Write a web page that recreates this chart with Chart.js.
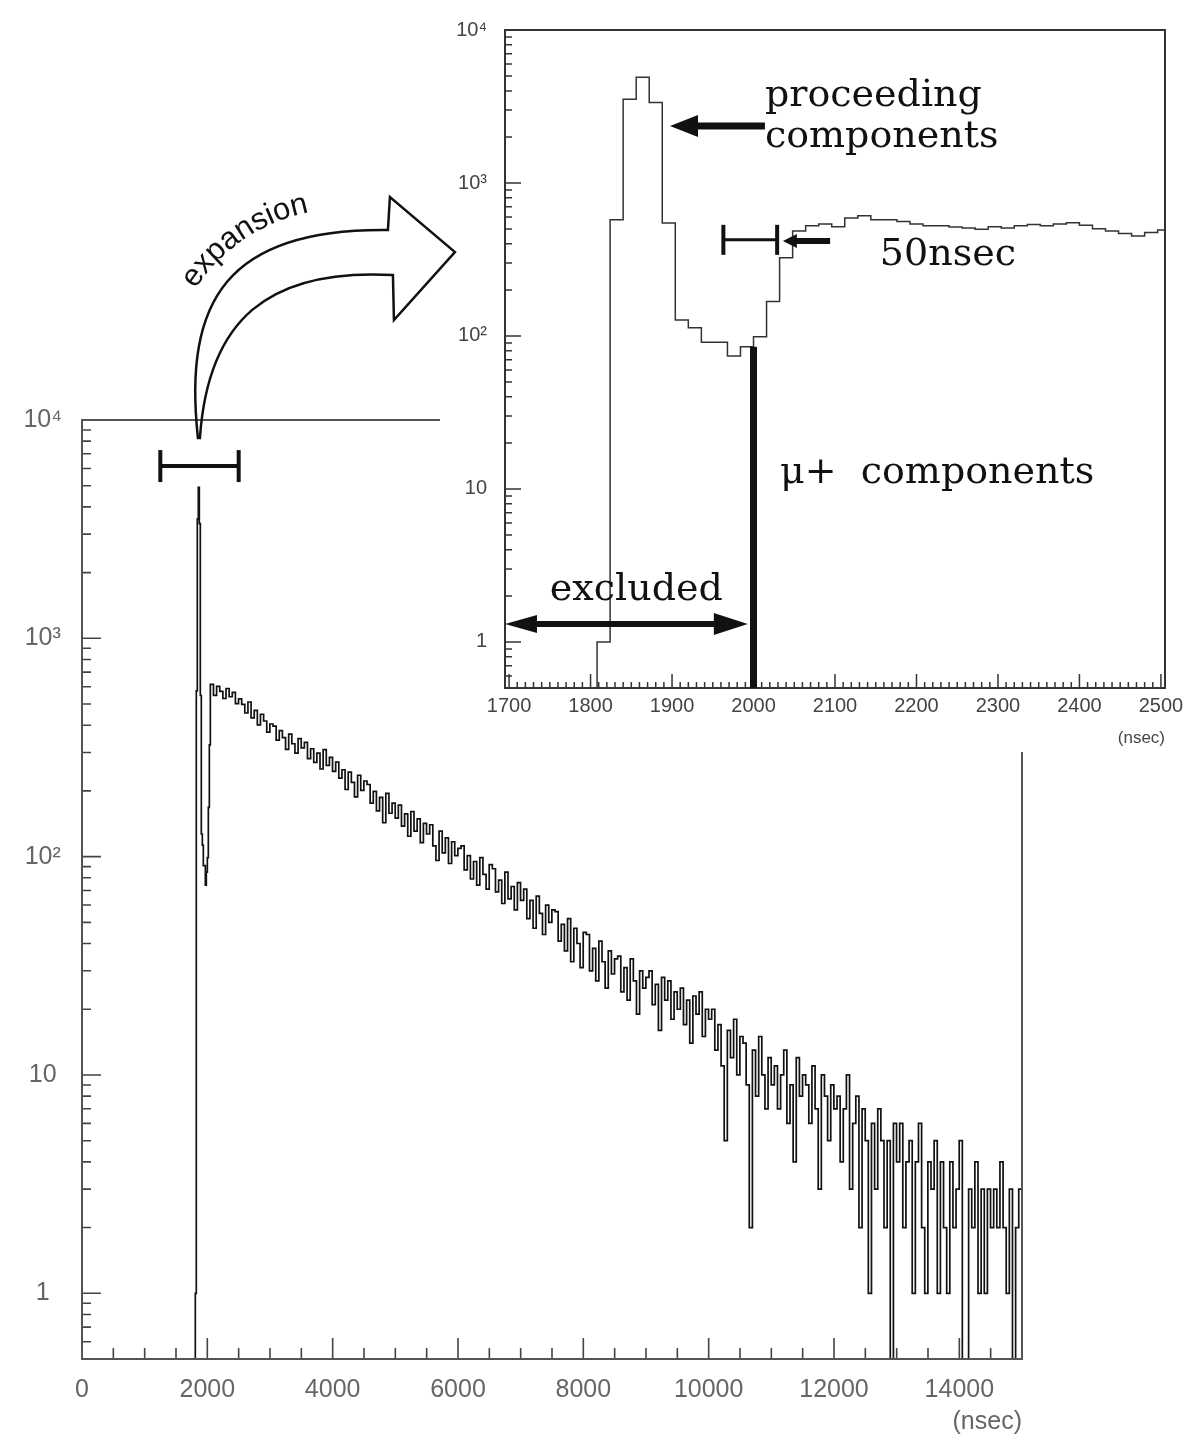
<!DOCTYPE html>
<html>
<head>
<meta charset="utf-8">
<script src="https://cdn.jsdelivr.net/npm/chart.js@4.4.1/dist/chart.umd.min.js"></script>
<style>
  html, body { margin: 0; padding: 0; background: #fff; }
  #wrap { position: relative; width: 1196px; height: 1441px; }
  #main { position: absolute; left: 0; top: 0; }
  #inset { position: absolute; left: 440px; top: 0; }
</style>
</head>
<body>
<div id="wrap">
  <canvas id="main" width="1196" height="1441"></canvas>
  <canvas id="inset" width="756" height="752"></canvas>
</div>
<script>
// ---- data (counts per bin, bins given by their left edge in nsec) ----
// prompt peak region, 16 nsec bins, used by both plots
const peakEdges  = [1792, 1808, 1824, 1840, 1856, 1872, 1888, 1904, 1920, 1936, 1952, 1968, 1984, 2000, 2016, 2032];
const peakCounts = [0, 1, 574, 3524, 4910, 3354, 547, 127, 113, 91, 91, 74, 85, 99, 168, 325];

// inset: continuation after the dip, 16 nsec bins from 2048
const insetTailStart = 2048;
const insetBinWidth = 16;
const insetTailCounts = [486, 526, 540, 518, 590, 610, 575, 575, 560, 540, 526, 526, 515, 507, 498,
  518, 507, 526, 535, 526, 540, 550, 530, 503, 486, 467, 450, 475, 492];

// main plot: decay tail, 50 nsec bins from 2048
const mainTailStart = 2048;
const mainBinWidth = 50;
const mainTailCounts = [
  615, 548, 602, 571, 530, 589, 540, 566, 502, 528,
  498, 455, 511, 432, 468, 401, 449, 418, 372, 405,
  396, 342, 378, 351, 310, 364, 329, 298, 347, 315,
  334, 281, 312, 270, 298, 252, 309, 262, 285, 246,
  271, 229, 250, 203, 244, 219, 188, 236, 201, 222,
  214, 176, 199, 162, 187, 143, 195, 158, 176, 150,
  172, 138, 157, 124, 161, 131, 149, 116, 142, 127,
  140, 112, 96, 131, 104, 122, 93, 117, 101, 109,
  112, 87, 101, 79, 95, 74, 99, 83, 71, 92,
  88, 69, 78, 61, 85, 64, 73, 57, 76, 63,
  71, 52, 63, 47, 66, 55, 44, 60, 50, 57,
  56, 41, 49, 37, 52, 33, 47, 40, 31, 45,
  44, 30, 38, 27, 41, 33, 25, 37, 29, 34,
  35, 24, 31, 22, 34, 27, 19, 30, 25, 28,
  30, 21, 26, 16, 28, 22, 27, 18, 24, 20,
  25, 17, 22, 14, 23, 19, 24, 15, 20, 18,
  20, 13, 17, 11, 5, 16, 12, 18, 10, 15,
  14, 9, 2, 13, 8, 15, 10, 7, 12, 9,
  11, 7, 10, 13, 6, 9, 4, 12, 8, 10,
  9, 6, 11, 7, 3, 10, 8, 5, 9, 7,
  8, 4, 7, 10, 3, 6, 8, 2, 7, 5,
  1, 6, 3, 7, 5, 2, 5, 0, 6, 4,
  6, 2, 4, 5, 1, 4, 6, 2, 1, 4,
  3, 5, 1, 4, 2, 1, 4, 2, 3, 5,
  0, 0, 3, 2, 4, 1, 3, 1, 3, 2,
  3, 2, 4, 2, 1, 3, 0, 2, 3
];

// tick labels
const mainXTicks = [0, 2000, 4000, 6000, 8000, 10000, 12000, 14000];
const mainYTicks = [1, 10, 100, 1000, 10000];
const mainYLabels = ['1', '10', '10\u00B2', '10\u00B3', '10\u2074'];
const insetXTicks = [1700, 1800, 1900, 2000, 2100, 2200, 2300, 2400, 2500];
const insetYTicks = [1, 10, 100, 1000, 10000];
const insetYLabels = ['1', '10', '10\u00B2', '10\u00B3', '10\u2074'];

// ---- helpers ----
function binEdges(start, width, n) {
  const out = [];
  for (let i = 0; i < n; i++) out.push(start + i * width);
  return out;
}
function histPoints(edges, counts, lastWidth) {
  const pts = edges.map((x, i) => ({ x: x, y: counts[i] }));
  const last = pts[pts.length - 1];
  pts.push({ x: last.x + lastWidth, y: last.y });
  return pts;
}
function logMinors(lo, hi) {
  const out = [];
  for (let d = 0.1; d < hi; d *= 10) {
    for (let k = 2; k <= 9; k++) {
      const v = +(k * d).toPrecision(2);
      if (v > lo && v < hi) out.push(v);
    }
  }
  return out;
}
function steps(from, to, step, skip) {
  const out = [];
  for (let v = from; v <= to; v += step) if (!skip || v % skip !== 0) out.push(v);
  return out;
}
function line(ctx, x1, y1, x2, y2) {
  ctx.beginPath(); ctx.moveTo(x1, y1); ctx.lineTo(x2, y2); ctx.stroke();
}
function head(ctx, tipX, tipY, dir, len, h) {
  ctx.beginPath();
  ctx.moveTo(tipX, tipY);
  ctx.lineTo(tipX - dir * len, tipY - h / 2);
  ctx.lineTo(tipX - dir * len, tipY + h / 2);
  ctx.closePath();
  ctx.fill();
}

// inward tick marks on the bottom and left axes
const inwardTicks = {
  id: 'inwardTicks',
  afterDatasetsDraw(chart, args, o) {
    const { ctx, chartArea: a, scales: { x, y } } = chart;
    ctx.save();
    ctx.strokeStyle = o.color;
    ctx.lineWidth = o.width;
    ctx.beginPath();
    o.xMajor.forEach(v => { const p = x.getPixelForValue(v); ctx.moveTo(p, a.bottom); ctx.lineTo(p, a.bottom - o.xMajorLen); });
    o.xMinor.forEach(v => { const p = x.getPixelForValue(v); ctx.moveTo(p, a.bottom); ctx.lineTo(p, a.bottom - o.xMinorLen); });
    o.yMajor.forEach(v => { const p = y.getPixelForValue(v); ctx.moveTo(a.left, p); ctx.lineTo(a.left + o.yMajorLen, p); });
    o.yMinor.forEach(v => { const p = y.getPixelForValue(v); ctx.moveTo(a.left, p); ctx.lineTo(a.left + o.yMinorLen, p); });
    ctx.stroke();
    ctx.restore();
  }
};

const insetEl = document.getElementById('inset');

// main frame: partly hidden behind the inset
const mainFrame = {
  id: 'mainFrame',
  afterDatasetsDraw(chart) {
    const { ctx, chartArea: a } = chart;
    ctx.save();
    ctx.strokeStyle = '#555';
    ctx.lineWidth = 2;
    ctx.beginPath();
    ctx.moveTo(insetEl.offsetLeft, a.top);
    ctx.lineTo(a.left, a.top);
    ctx.lineTo(a.left, a.bottom);
    ctx.lineTo(a.right, a.bottom);
    ctx.lineTo(a.right, insetEl.offsetTop + insetEl.offsetHeight);
    ctx.stroke();
    ctx.restore();
  }
};

const mainNotes = {
  id: 'mainNotes',
  afterDraw(chart) {
    const { ctx, chartArea: a, scales: { x, y } } = chart;
    ctx.save();
    ctx.strokeStyle = '#111';
    ctx.fillStyle = '#111';
    // expanded range bar
    const b1 = x.getPixelForValue(1250), b2 = x.getPixelForValue(2500), by = y.getPixelForValue(6150);
    ctx.lineWidth = 4;
    line(ctx, b1, by, b2, by);
    line(ctx, b1, by - 16, b1, by + 16);
    line(ctx, b2, by - 16, b2, by + 16);

    // curved "expansion" arrow, tip anchored on the peak just below the top frame
    const tx = x.getPixelForValue(1850), ty = a.top + 18;
    ctx.lineWidth = 2.5;
    ctx.lineJoin = 'miter';
    ctx.beginPath();
    ctx.moveTo(tx, ty);
    ctx.bezierCurveTo(tx - 15, ty - 138, tx + 30, ty - 210, tx + 190, ty - 208);
    ctx.lineTo(tx + 192, ty - 241);
    ctx.lineTo(tx + 257, ty - 186);
    ctx.lineTo(tx + 196, ty - 118);
    ctx.lineTo(tx + 195, ty - 163);
    ctx.bezierCurveTo(tx + 70, ty - 170, tx + 10, ty - 118, tx + 2, ty);
    ctx.closePath();
    ctx.stroke();

    // text bent along the arrow
    const cx = tx + 145, cy = ty - 53, R = 176, mid = -124 * Math.PI / 180;
    ctx.font = '31px "Liberation Sans", Arial, sans-serif';
    ctx.textAlign = 'center';
    ctx.textBaseline = 'alphabetic';
    const word = 'expansion';
    let ang = mid - ctx.measureText(word).width / 2 / R;
    for (const ch of word) {
      const w = ctx.measureText(ch).width;
      const t = ang + w / 2 / R;
      ctx.save();
      ctx.translate(cx + R * Math.cos(t), cy + R * Math.sin(t));
      ctx.rotate(t + Math.PI / 2);
      ctx.fillText(ch, 0, 0);
      ctx.restore();
      ang += w / R;
    }
    ctx.restore();
  }
};

const insetNotes = {
  id: 'insetNotes',
  afterDraw(chart) {
    const { ctx, chartArea: a, scales: { x, y } } = chart;
    const X = v => x.getPixelForValue(v), Y = v => y.getPixelForValue(v);
    ctx.save();
    // frame
    ctx.strokeStyle = '#333';
    ctx.lineWidth = 2;
    ctx.strokeRect(a.left, a.top, a.right - a.left, a.bottom - a.top);

    ctx.strokeStyle = '#111';
    ctx.fillStyle = '#111';
    ctx.lineCap = 'butt';

    // start of the mu+ window
    ctx.lineWidth = 7;
    line(ctx, X(2000), a.bottom, X(2000), Y(85));

    // arrow to the proceeding components
    const py = Y(2355);
    ctx.lineWidth = 7;
    line(ctx, X(2014), py, X(1897.5) + 24, py);
    head(ctx, X(1897.5), py, -1, 28, 22);

    // 50 nsec bar and its arrow
    const ey = Y(425);
    ctx.lineWidth = 3;
    line(ctx, X(1963), ey, X(2029), ey);
    ctx.lineWidth = 4;
    line(ctx, X(1963), ey - 15, X(1963), ey + 15);
    line(ctx, X(2029), ey - 15, X(2029), ey + 15);
    const sy = Y(418);
    ctx.lineWidth = 6;
    line(ctx, X(2094), sy, X(2036) + 12, sy);
    head(ctx, X(2036), sy, -1, 14, 14);

    // excluded double arrow
    const xy = Y(1.31);
    ctx.lineWidth = 6;
    line(ctx, a.left + 25, xy, X(1993) - 25, xy);
    head(ctx, a.left, xy, -1, 32, 18);
    head(ctx, X(1993), xy, 1, 34, 22);

    // labels
    ctx.font = '38px "DejaVu Serif", "Liberation Serif", serif';
    ctx.textAlign = 'left';
    ctx.textBaseline = 'alphabetic';
    ctx.fillText('proceeding', X(2014), Y(2900) - 6);
    ctx.fillText('components', X(2014), Y(2900) + 35);
    ctx.fillText('50nsec', X(2155), Y(292));
    ctx.fillText('\u03BC+  components', X(2032.5), Y(11));
    ctx.fillText('excluded', X(1750), Y(1.87));
    ctx.restore();
  }
};

// ---- datasets ----
const mainEdges = peakEdges.concat(binEdges(mainTailStart, mainBinWidth, mainTailCounts.length));
const mainCounts = peakCounts.concat(mainTailCounts);
const insetEdges = peakEdges.concat(binEdges(insetTailStart, insetBinWidth, insetTailCounts.length));
const insetCounts = peakCounts.concat(insetTailCounts);

const tickFontMain = { family: '"Liberation Sans", "DejaVu Sans", sans-serif', size: 25 };
const tickFontInset = { family: '"Liberation Sans", "DejaVu Sans", sans-serif', size: 20 };

new Chart(document.getElementById('main'), {
  type: 'line',
  data: {
    datasets: [{
      data: histPoints(mainEdges, mainCounts, mainBinWidth),
      parsing: false,
      stepped: true,
      borderColor: '#111',
      borderWidth: 1.7,
      pointRadius: 0,
      fill: false
    }]
  },
  options: {
    responsive: false,
    animation: false,
    layout: { padding: { left: 0, top: 420, right: 174, bottom: 0 } },
    plugins: {
      legend: { display: false },
      tooltip: { enabled: false },
      inwardTicks: {
        color: '#444', width: 1.6,
        xMajor: steps(2000, 14000, 2000), xMinor: steps(500, 14500, 500, 2000),
        yMajor: [1, 10, 100, 1000], yMinor: logMinors(0.5, 10000),
        xMajorLen: 21, xMinorLen: 11, yMajorLen: 19, yMinorLen: 9
      }
    },
    scales: {
      x: {
        type: 'linear', min: 0, max: 15000,
        grid: { display: false, drawTicks: false },
        border: { display: false },
        afterBuildTicks: s => { s.ticks = mainXTicks.map(v => ({ value: v })); },
        afterFit: s => { s.height = 82; },
        ticks: { font: tickFontMain, color: '#666', padding: 16, maxRotation: 0, autoSkip: false,
          callback: v => String(v) },
        title: { display: true, text: '(nsec)', align: 'end', color: '#666',
          font: tickFontMain, padding: { top: 0, bottom: 4 } }
      },
      y: {
        type: 'logarithmic', min: 0.5, max: 10000,
        grid: { display: false, drawTicks: false },
        border: { display: false },
        afterBuildTicks: s => { s.ticks = mainYTicks.map(v => ({ value: v })); },
        afterFit: s => { s.width = 82; },
        ticks: { font: tickFontMain, color: '#666', padding: 20, crossAlign: 'center', autoSkip: false,
          callback: (v, i) => mainYLabels[i] }
      }
    }
  },
  plugins: [inwardTicks, mainFrame, mainNotes]
});

new Chart(insetEl, {
  type: 'line',
  data: {
    datasets: [{
      data: histPoints(insetEdges, insetCounts, insetBinWidth),
      parsing: false,
      stepped: true,
      borderColor: '#333',
      borderWidth: 1.5,
      pointRadius: 0,
      fill: false
    }]
  },
  options: {
    responsive: false,
    animation: false,
    layout: { padding: { left: 0, top: 25, right: 31, bottom: 0 } },
    plugins: {
      legend: { display: false },
      tooltip: { enabled: false },
      inwardTicks: {
        color: '#333', width: 1.5,
        xMajor: steps(1700, 2500, 100), xMinor: steps(1700, 2500, 10, 100),
        yMajor: [1, 10, 100, 1000], yMinor: logMinors(0.5, 10000),
        xMajorLen: 14, xMinorLen: 6, yMajorLen: 16, yMinorLen: 7
      }
    },
    scales: {
      x: {
        type: 'linear', min: 1695, max: 2505,
        grid: { display: false, drawTicks: false },
        border: { display: false },
        afterBuildTicks: s => { s.ticks = insetXTicks.map(v => ({ value: v })); },
        afterFit: s => { s.height = 64; },
        ticks: { font: tickFontInset, color: '#444', padding: 6, maxRotation: 0, autoSkip: false,
          callback: v => String(v) },
        title: { display: true, text: '(nsec)', align: 'end', color: '#444',
          font: { family: tickFontInset.family, size: 17 }, padding: { top: 0, bottom: 3 } }
      },
      y: {
        type: 'logarithmic', min: 0.5, max: 10000,
        grid: { display: false, drawTicks: false },
        border: { display: false },
        afterBuildTicks: s => { s.ticks = insetYTicks.map(v => ({ value: v })); },
        afterFit: s => { s.width = 65; },
        ticks: { font: tickFontInset, color: '#444', padding: 18, autoSkip: false,
          callback: (v, i) => insetYLabels[i] }
      }
    }
  },
  plugins: [inwardTicks, insetNotes]
});
</script>
</body>
</html>
